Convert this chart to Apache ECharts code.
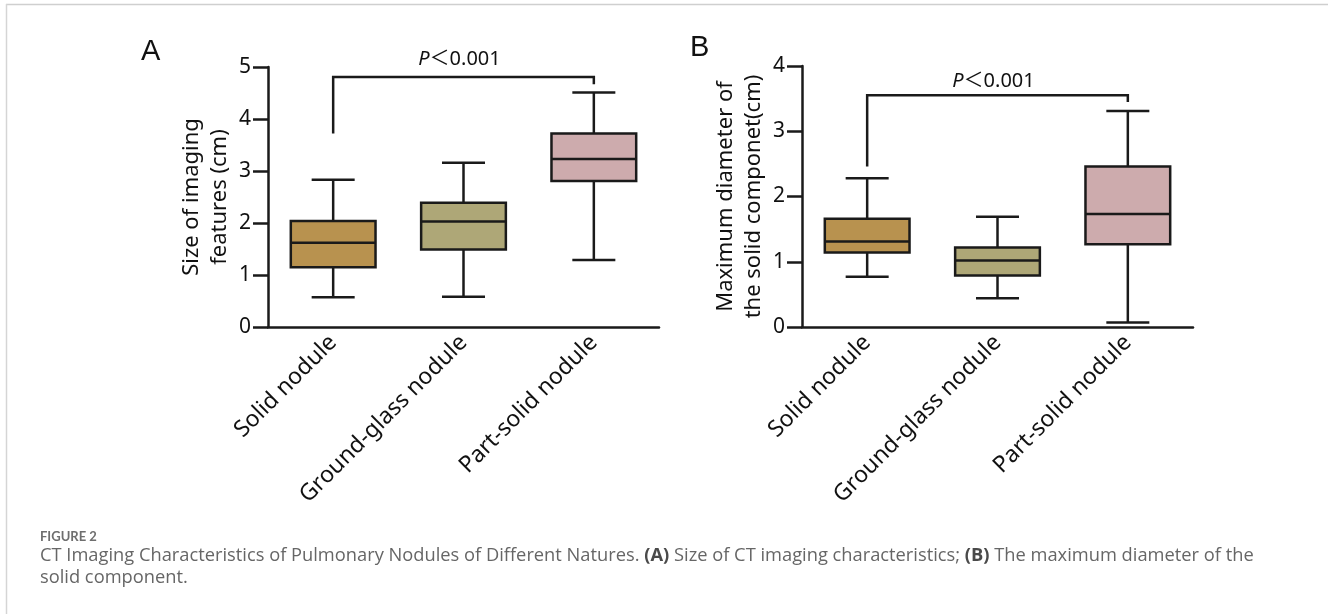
<!DOCTYPE html>
<html>
<head>
<meta charset="utf-8">
<script src="https://cdn.jsdelivr.net/npm/echarts@6/dist/echarts.min.js"></script>
<style>
html, body { margin: 0; padding: 0; background: #fff; }
#main { width: 1328px; height: 614px; }
</style>
</head>
<body>
<div id="main"></div>
<script>
// categories on both x axes
const categories = ['Solid nodule', 'Ground-glass nodule', 'Part-solid nodule'];
// [min, Q1, median, Q3, max] per category
const boxA = [
  [0.57, 1.15, 1.62, 2.04, 2.83],
  [0.58, 1.49, 2.03, 2.39, 3.16],
  [1.29, 2.81, 3.23, 3.72, 4.51]
];
const boxB = [
  [0.77, 1.14, 1.31, 1.66, 2.28],
  [0.44, 0.79, 1.02, 1.22, 1.69],
  [0.07, 1.27, 1.73, 2.46, 3.31]
];
// significance bracket: [fromCat, toCat, leftEnd, top, rightEnd, labelY]
const bracketA = [0, 2, 3.72, 4.81, 4.67, 5.15];
const bracketB = [0, 2, 2.46, 3.55, 3.45, 3.76];
const pLabel = '{i|P}＜0.001';
// y axis ranges
const yMaxA = 5, yMaxB = 4, yStep = 1;

const boxColors = ['#b8924f', '#aea777', '#cdabad'];
const ink = '#1a1a1a';
const font = '"Noto Sans", "Open Sans", sans-serif';

let myChart = echarts.init(document.getElementById('main'));

function renderBox(params, api) {
  const i = api.value(0);
  const unit = api.size([1, 0])[0];
  const half = unit * 0.325, cap = unit * 0.165;
  const lo = api.coord([i, api.value(1)]);
  const q1 = api.coord([i, api.value(2)]);
  const md = api.coord([i, api.value(3)]);
  const q3 = api.coord([i, api.value(4)]);
  const hi = api.coord([i, api.value(5)]);
  const x = lo[0];
  const ls = { stroke: ink, lineWidth: 2.5 };
  return {
    type: 'group',
    children: [
      { type: 'line', shape: { x1: x, y1: hi[1], x2: x, y2: q3[1] }, style: ls },
      { type: 'line', shape: { x1: x, y1: q1[1], x2: x, y2: lo[1] }, style: ls },
      { type: 'line', shape: { x1: x - cap, y1: hi[1], x2: x + cap, y2: hi[1] }, style: ls },
      { type: 'line', shape: { x1: x - cap, y1: lo[1], x2: x + cap, y2: lo[1] }, style: ls },
      { type: 'rect', shape: { x: x - half, y: q3[1], width: half * 2, height: q1[1] - q3[1] },
        style: { fill: boxColors[i], stroke: ink, lineWidth: 2.5 } },
      { type: 'line', shape: { x1: x - half, y1: md[1], x2: x + half, y2: md[1] }, style: ls }
    ]
  };
}

function renderBracket(params, api) {
  const c0 = api.value(0), c1 = api.value(1);
  const l = api.coord([c0, api.value(2)]);
  const a = api.coord([c0, api.value(3)]);
  const b = api.coord([c1, api.value(3)]);
  const r = api.coord([c1, api.value(4)]);
  const t = api.coord([(c0 + c1) / 2, api.value(5)]);
  return {
    type: 'group',
    children: [
      { type: 'polyline', shape: { points: [l, a, b, r] }, style: { stroke: ink, lineWidth: 2.5, fill: null } },
      { type: 'text', x: t[0] - 4, y: t[1],
        style: { text: pLabel, align: 'center', verticalAlign: 'middle', fontSize: 20,
          fontFamily: '"Noto Sans", "Noto Sans CJK SC", sans-serif', fill: '#111',
          rich: { i: { fontStyle: 'italic', fontSize: 20, fontFamily: '"Noto Sans", sans-serif', fill: '#111' } } } }
    ]
  };
}

function xAxisCfg(idx) {
  return {
    type: 'category', gridIndex: idx, data: categories,
    axisLine: { lineStyle: { color: ink, width: 2.5 } },
    axisTick: { alignWithLabel: true, length: 10, lineStyle: { color: ink, width: 2.5 } },
    axisLabel: { rotate: 45, interval: 0, margin: 12, fontSize: 23, color: '#111', fontFamily: font }
  };
}

function yAxisCfg(idx, max, name) {
  return {
    type: 'value', gridIndex: idx, min: 0, max: max, interval: yStep,
    splitLine: { show: false },
    axisLine: { show: true, lineStyle: { color: ink, width: 2.5 } },
    axisTick: { show: true, length: 15, lineStyle: { color: ink, width: 2.5 } },
    axisLabel: { margin: 17, fontSize: 21, color: '#111', fontFamily: font },
    name: name, nameLocation: 'middle', nameRotate: 90, nameGap: 34,
    nameTextStyle: { fontSize: 22, lineHeight: 28, color: '#111', fontFamily: font }
  };
}

let option = {
  animation: false,
  backgroundColor: '#fff',
  grid: [
    { left: 268, top: 67, width: 391, height: 260 },
    { left: 802, top: 66, width: 391, height: 261 }
  ],
  xAxis: [xAxisCfg(0), xAxisCfg(1)],
  yAxis: [
    yAxisCfg(0, yMaxA, 'Size of imaging\nfeatures (cm)'),
    yAxisCfg(1, yMaxB, 'Maximum diameter of\nthe solid componet(cm)')
  ],
  series: [
    { type: 'custom', xAxisIndex: 0, yAxisIndex: 0, renderItem: renderBox,
      encode: { x: 0, y: [1, 2, 3, 4, 5] }, data: boxA.map((d, i) => [i].concat(d)) },
    { type: 'custom', xAxisIndex: 1, yAxisIndex: 1, renderItem: renderBox,
      encode: { x: 0, y: [1, 2, 3, 4, 5] }, data: boxB.map((d, i) => [i].concat(d)) },
    { type: 'custom', xAxisIndex: 0, yAxisIndex: 0, renderItem: renderBracket, clip: false,
      encode: { x: [0, 1], y: [2, 3, 4] }, data: [bracketA] },
    { type: 'custom', xAxisIndex: 1, yAxisIndex: 1, renderItem: renderBracket, clip: false,
      encode: { x: [0, 1], y: [2, 3, 4] }, data: [bracketB] }
  ],
  graphic: [
    // page frame lines
    { type: 'line', shape: { x1: 6, y1: 4.5, x2: 1328, y2: 4.5 }, style: { stroke: '#cfcfcf', lineWidth: 1.5 } },
    { type: 'line', shape: { x1: 6.5, y1: 4, x2: 6.5, y2: 614 }, style: { stroke: '#d5d5d5', lineWidth: 1.5 } },
    // panel letters
    { type: 'text', left: 141, top: 37, style: { text: 'A', fontSize: 29, fontFamily: '"Liberation Sans", Arial', fill: '#111' } },
    { type: 'text', left: 690, top: 33, style: { text: 'B', fontSize: 29, fontFamily: '"Liberation Sans", Arial', fill: '#111' } },
    // caption
    { type: 'text', left: 40, top: 530, style: { text: 'FIGURE 2', fontSize: 13, fontWeight: 700, fontFamily: 'Lato, "Open Sans"', fill: '#6e6e6e' } },
    { type: 'text', left: 40, top: 545,
      style: {
        text: 'CT Imaging Characteristics of Pulmonary Nodules of Different Natures. {b|(A)} Size of CT imaging characteristics; {b|(B)} The maximum diameter of the\nsolid component.',
        fontSize: 18.3, lineHeight: 22, fontFamily: '"Open Sans", Lato', fill: '#666',
        rich: { b: { fontWeight: 'bold', fontSize: 18.3, fontFamily: '"Open Sans", Lato', fill: '#4a4a4a' } }
      } }
  ]
};
myChart.setOption(option, (window.onresize = myChart.resize));
</script>
</body>
</html>
